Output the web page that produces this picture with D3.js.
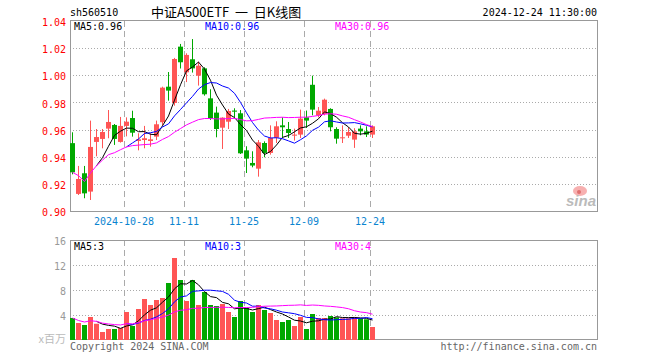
<!DOCTYPE html>
<html>
<head>
<meta charset="utf-8">
<script src="https://cdn.jsdelivr.net/npm/d3@7"></script>
<style>
  body { margin: 0; background: #fff; }
  text { font-family: "DejaVu Sans Mono", monospace; font-size: 10px; }
</style>
</head>
<body>
<div id="chart"></div>
<script>
// daily bars, 2024-10-15 .. 2024-12-24
var dates = ["10-15","10-16","10-17","10-18","10-21","10-22","10-23","10-24","10-25","10-28",
  "10-29","10-30","10-31","11-01","11-04","11-05","11-06","11-07","11-08","11-11",
  "11-12","11-13","11-14","11-15","11-18","11-19","11-20","11-21","11-22","11-25",
  "11-26","11-27","11-28","11-29","12-02","12-03","12-04","12-05","12-06","12-09",
  "12-10","12-11","12-12","12-13","12-16","12-17","12-18","12-19","12-20","12-23","12-24"];

var open = [0.950,0.9126,0.9278,0.9143,0.9509,0.9531,0.9607,0.9634,0.9509,0.9627,
  0.9685,0.9516,0.9523,0.9516,0.9548,0.9654,0.9916,0.9796,1.0211,1.0022,
  1.0118,0.9997,1.0051,0.983,0.9725,0.9614,0.9658,0.974,0.972,0.9447,
  0.9354,0.9312,0.9501,0.9428,0.954,0.9631,0.9604,0.9555,0.9563,0.969,
  0.993,0.9705,0.9715,0.9752,0.9604,0.9538,0.9555,0.9526,0.9607,0.9587,0.9563];
var high = [0.958,0.9332,0.9332,0.9666,0.9604,0.9604,0.9744,0.9641,0.9693,0.969,
  0.9739,0.9573,0.9627,0.9573,0.9666,0.9916,1.0024,1.0128,1.0231,1.0162,
  1.0267,1.0101,1.0059,0.9897,0.9769,0.969,0.9752,0.9757,0.9744,0.9477,
  0.944,0.9523,0.9513,0.9631,0.9661,0.969,0.9656,0.9607,0.9747,0.974,
  0.9997,0.9766,0.9828,0.9757,0.9617,0.9631,0.9617,0.961,0.9631,0.9624,0.9631];
var low = [0.927,0.9118,0.9094,0.9081,0.9403,0.9462,0.9536,0.9487,0.9504,0.955,
  0.9548,0.9447,0.9462,0.9474,0.9523,0.9629,0.9813,0.9776,1.005,0.995,
  1.002,0.9924,0.985,0.9671,0.9543,0.9457,0.9604,0.9683,0.942,0.928,
  0.9322,0.9253,0.9396,0.9415,0.9501,0.954,0.9538,0.9519,0.9538,0.9612,
  0.9705,0.969,0.9705,0.9587,0.9496,0.9501,0.9538,0.9465,0.9558,0.9545,0.9538];
var close = [0.9285,0.9236,0.913,0.9472,0.9545,0.9582,0.9656,0.9531,0.9627,0.9658,
  0.9577,0.9528,0.9536,0.9528,0.9639,0.9909,0.9887,1.012,1.0096,1.015,
  1.0051,1.0071,0.986,0.9683,0.9604,0.9688,0.9737,0.9732,0.9425,0.9386,
  0.9335,0.9506,0.9428,0.9538,0.9624,0.9617,0.9575,0.9563,0.9681,0.9666,
  0.9747,0.9739,0.982,0.9617,0.9533,0.9543,0.9582,0.9587,0.9587,0.9563,0.9624];
// volume, millions
var volume = [3.52,2.72,2.4,3.68,2.6,1.28,1.76,1.76,1.92,4.48,
  2.24,4.96,6.56,5.6,6.4,6.72,9.12,13.12,9.6,6.24,
  9.6,5.6,7.68,5.6,5.44,5.76,4.48,3.68,6.24,5.12,
  4.48,5.6,4.8,4.32,3.2,2.88,3.2,2.24,3.68,1.76,
  4.16,3.52,3.52,3.84,3.63,3.47,3.47,3.63,3.47,3.31,2.08];

var priceTicks = [0.90,0.92,0.94,0.96,0.98,1.00,1.02,1.04];
var volTicks = [4,8,12,16];
var dateTicks = ["10-28","11-11","11-25","12-09","12-24"];
var dateLabels = ["2024-10-28","11-11","11-25","12-09","12-24"];

var RED = "#ff5555", GREEN = "#00a800";

var svg = d3.select("#chart").append("svg")
  .attr("width", 660)
  .attr("height", 360);

var left = 70, right = 597;
var x = d3.scaleBand().domain(dates).range([left, left + 6 * dates.length]);
var yP = d3.scaleLinear().domain([0.90, 1.04]).range([211, 21]);
var yV = d3.scaleLinear().domain([0, 16]).range([340, 240]);

function ma(arr, n, partial) {
  return arr.map(function(v, i) {
    if (i < n - 1 && !partial) return null;
    return d3.mean(arr.slice(Math.max(0, i - n + 1), i + 1));
  });
}

var up = close.map(function(c, i) { return c >= open[i]; });

// header
svg.append("text").attr("x", 70).attr("y", 16).text("sh560510");
svg.append("text").attr("x", 151).attr("y", 17)
  .style("font-family", "'Noto Sans CJK SC', sans-serif").style("font-size", "13px")
  .style("white-space", "pre")
  .text("中证A500ETF  一  日K线图");
svg.append("text").attr("x", 597).attr("y", 16).attr("text-anchor", "end")
  .text("2024-12-24 11:30:00");

// grid: horizontal dotted
svg.append("g").selectAll("line").data(priceTicks.slice(1, -1)).join("line")
  .attr("x1", left).attr("x2", right + 1)
  .attr("y1", function(d) { return Math.round(yP(d)) + 0.5; })
  .attr("y2", function(d) { return Math.round(yP(d)) + 0.5; })
  .attr("stroke", "#aaa").attr("stroke-dasharray", "1,2");
svg.append("g").selectAll("line").data(volTicks.slice(0, -1)).join("line")
  .attr("x1", left).attr("x2", right + 1)
  .attr("y1", function(d) { return Math.round(yV(d)) + 0.5; })
  .attr("y2", function(d) { return Math.round(yV(d)) + 0.5; })
  .attr("stroke", "#aaa").attr("stroke-dasharray", "1,2");

// grid: vertical dashed, both panels
[[21, 211], [240, 340]].forEach(function(r) {
  svg.append("g").selectAll("line").data(dateTicks).join("line")
    .attr("x1", function(d) { return x(d) + 0.5; })
    .attr("x2", function(d) { return x(d) + 0.5; })
    .attr("y1", r[0]).attr("y2", r[1])
    .attr("stroke", "#aaa").attr("stroke-dasharray", "6,4");
});

// frames
svg.append("rect").attr("x", left + 0.5).attr("y", 20.5)
  .attr("width", right - left).attr("height", 191)
  .attr("fill", "none").attr("stroke", "#999");
svg.append("rect").attr("x", left + 0.5).attr("y", 240.5)
  .attr("width", right - left).attr("height", 99)
  .attr("fill", "none").attr("stroke", "#999");

// price axis
var pa = svg.append("g").attr("transform", "translate(" + left + ",1.5)")
  .call(d3.axisLeft(yP).tickValues(priceTicks).tickFormat(d3.format(".2f")).tickSize(0).tickPadding(4));
pa.select(".domain").remove();
pa.selectAll("text").attr("fill", "#ff0000")
  .style("font-family", "'DejaVu Sans Mono', monospace").style("font-size", "10px");

// volume axis
var va = svg.append("g").attr("transform", "translate(" + left + ",1)")
  .call(d3.axisLeft(yV).tickValues(volTicks).tickSize(0).tickPadding(4));
va.select(".domain").remove();
va.selectAll("text").attr("fill", "#999")
  .style("font-family", "'DejaVu Sans Mono', monospace").style("font-size", "10px");
svg.append("text").attr("x", 66).attr("y", 343).attr("text-anchor", "end")
  .attr("fill", "#bbb").style("font-family", "'Noto Sans CJK SC', sans-serif").style("font-size", "11px")
  .text("x百万");

// date axis
var da = svg.append("g").attr("transform", "translate(-3,211)")
  .call(d3.axisBottom(x).tickValues(dateTicks)
    .tickFormat(function(d, i) { return dateLabels[i]; }).tickSize(0).tickPadding(7));
da.select(".domain").remove();
da.selectAll("text").attr("fill", "#0a84d0")
  .style("font-family", "'DejaVu Sans Mono', monospace").style("font-size", "10px");

// sina mark
var logo = svg.append("g");
logo.append("ellipse").attr("cx", 580).attr("cy", 191).attr("rx", 7).attr("ry", 5).attr("fill", "#f7b0b0");
logo.append("circle").attr("cx", 579).attr("cy", 192).attr("r", 2).attr("fill", "#e07070");
logo.append("text").attr("x", 566).attr("y", 206)
  .style("font-family", "'Liberation Sans', sans-serif").style("font-size", "15px")
  .style("font-style", "italic").style("font-weight", "bold")
  .attr("fill", "#bbb").text("sina");

// candles
var cg = svg.append("g");
cg.selectAll("line").data(dates).join("line")
  .attr("x1", function(d) { return x(d) + 2.5; })
  .attr("x2", function(d) { return x(d) + 2.5; })
  .attr("y1", function(d, i) { return yP(high[i]); })
  .attr("y2", function(d, i) { return yP(low[i]); })
  .attr("stroke", function(d, i) { return up[i] ? RED : GREEN; });
cg.selectAll("rect").data(dates).join("rect")
  .attr("x", function(d) { return x(d); })
  .attr("width", 5)
  .attr("y", function(d, i) { return yP(Math.max(open[i], close[i])); })
  .attr("height", function(d, i) { return Math.max(1, Math.abs(yP(open[i]) - yP(close[i]))); })
  .attr("fill", function(d, i) { return up[i] ? RED : GREEN; });

// volume bars
svg.append("g").selectAll("rect").data(dates).join("rect")
  .attr("x", function(d) { return x(d); })
  .attr("width", 5)
  .attr("y", function(d, i) { return yV(volume[i]); })
  .attr("height", function(d, i) { return yV(0) - yV(volume[i]); })
  .attr("fill", function(d, i) { return up[i] ? RED : GREEN; });

// moving averages
var series = [
  {n: 5, color: "#000", partial: false},
  {n: 10, color: "#0000ff", partial: false},
  {n: 30, color: "#ff00ff", partial: true}
];
var fmtP = d3.format(".2f"), fmtV = d3.format(".0f");
var labelX = [74, 205, 335];

series.forEach(function(s, k) {
  var pm = ma(close, s.n, s.partial);
  var vm = ma(volume, s.n, s.partial);
  var lineP = d3.line().defined(function(d) { return d != null; })
    .x(function(d, i) { return x(dates[i]) + 2.5; })
    .y(function(d) { return yP(d); });
  var lineV = d3.line().defined(function(d) { return d != null; })
    .x(function(d, i) { return x(dates[i]) + 2.5; })
    .y(function(d) { return yV(d); });
  svg.append("path").datum(pm).attr("d", lineP)
    .attr("fill", "none").attr("stroke", s.color).attr("stroke-width", 1);
  svg.append("path").datum(vm).attr("d", lineV)
    .attr("fill", "none").attr("stroke", s.color).attr("stroke-width", 1);
  svg.append("text").attr("x", labelX[k]).attr("y", 30).attr("fill", s.color)
    .text("MA" + s.n + ":" + fmtP(pm[pm.length - 1]));
  svg.append("text").attr("x", labelX[k]).attr("y", 250).attr("fill", s.color)
    .text("MA" + s.n + ":" + fmtV(vm[vm.length - 1]));
});

// footer
svg.append("text").attr("x", 70).attr("y", 350).attr("fill", "#666")
  .text("Copyright 2024 SINA.COM");
svg.append("text").attr("x", 597).attr("y", 350).attr("text-anchor", "end").attr("fill", "#666")
  .text("http://finance.sina.com.cn");
</script>
</body>
</html>
